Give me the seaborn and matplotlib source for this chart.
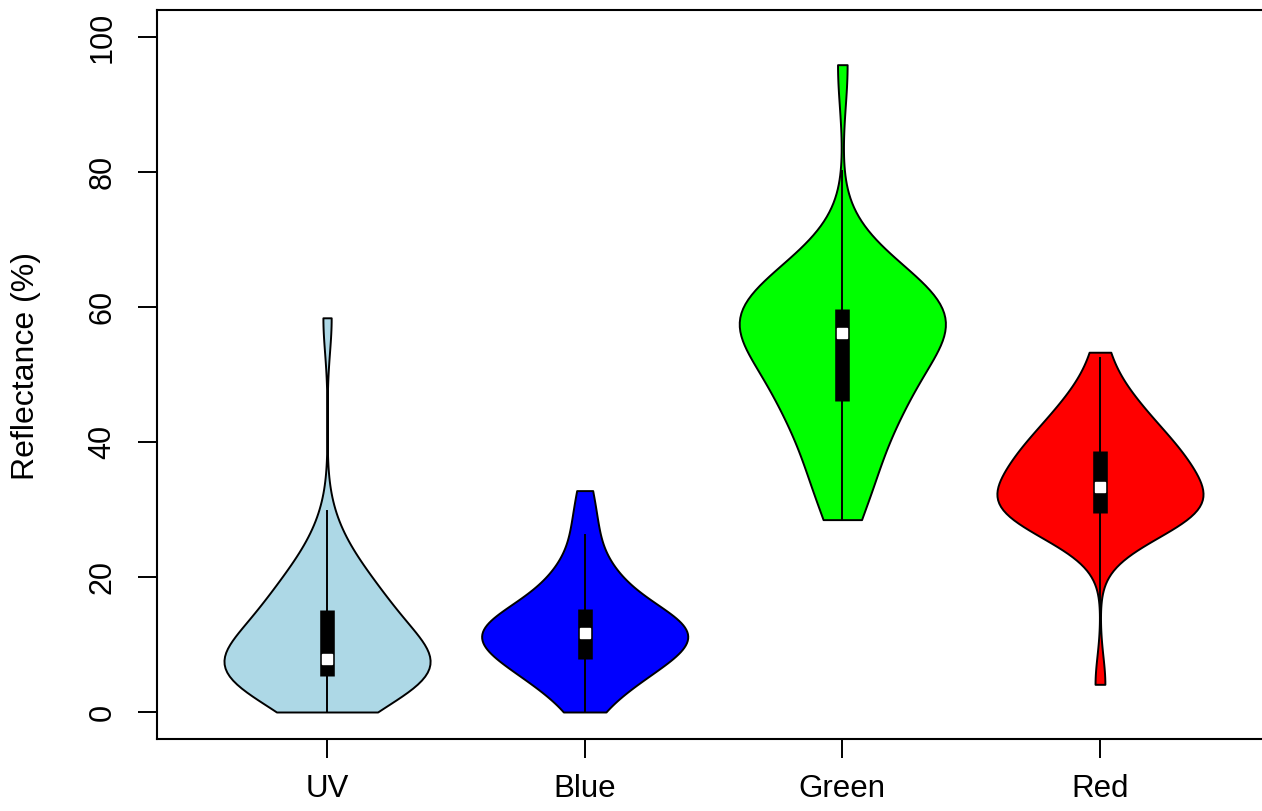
import numpy as np
import pandas as pd
import matplotlib
matplotlib.use("Agg")
import matplotlib.pyplot as plt
import seaborn as sns

plt.rcParams['font.family'] = ['Liberation Sans', 'DejaVu Sans']

bands = ["UV", "Blue", "Green", "Red"]
colors = ["#add8e6", "#0000ff", "#00ff00", "#ff0000"]

# reflectance values (%) per band
uv = [0.0, 2.4, 3.3, 3.9, 4.3, 4.6, 4.8, 4.9, 5.0, 5.1,
      5.4, 5.8, 6.2, 6.6, 7.0, 7.2, 7.4, 7.5, 7.6, 7.7,
      7.9, 8.8, 9.8, 10.8, 11.8, 12.6, 13.3, 13.9, 14.4, 14.9,
      15.7, 16.5, 17.3, 18.2, 19.2, 20.3, 21.6, 23.5, 27.0, 58.4]
blue = [0.0, 2.0, 3.3, 4.3, 5.1, 5.8, 6.4, 6.9, 7.3, 7.6,
        8.0, 8.6, 9.2, 9.7, 10.2, 10.6, 10.9, 11.2, 11.4, 11.6,
        11.8, 12.0, 12.3, 12.6, 12.9, 13.3, 13.7, 14.1, 14.5, 15.0,
        15.8, 16.8, 17.8, 18.8, 19.8, 20.8, 22.5, 26.0, 28.5, 32.8]
green = [28.5, 31.6, 33.4, 35.2, 37.2, 39.5, 41.7, 43.5, 44.8, 45.7,
         46.2, 47.0, 47.9, 48.9, 50.0, 51.2, 52.5, 53.8, 55.0, 56.0,
         56.4, 56.8, 57.2, 57.6, 58.0, 58.3, 58.6, 58.9, 59.2, 59.5,
         60.2, 60.8, 61.5, 62.3, 63.2, 64.2, 65.3, 66.5, 68.0, 95.9]
red = [4.1, 25.5, 26.8, 27.6, 28.2, 28.6, 28.9, 29.1, 29.3, 29.4,
       29.6, 30.1, 30.6, 31.1, 31.6, 32.0, 32.4, 32.8, 33.1, 33.3,
       33.5, 35.0, 36.0, 36.8, 37.3, 37.7, 38.0, 38.2, 38.4, 38.5,
       39.4, 40.5, 41.6, 42.6, 43.6, 44.5, 45.4, 46.5, 48.5, 53.3]

groups = [uv, blue, green, red]
df = pd.DataFrame({
    "band": np.repeat(bands, [len(g) for g in groups]),
    "value": np.concatenate(groups),
})

fig = plt.figure(figsize=(12.62, 8.11), dpi=100)
# axes box runs past the right edge, as in the cropped original
ax = fig.add_axes([157 / 1262, 72 / 811, 1113 / 1262, 729 / 811])

sns.violinplot(data=df, x="band", y="value", hue="band", order=bands,
               hue_order=bands, palette=colors, saturation=1, cut=0,
               density_norm="width", width=0.8, bw_adjust=1.06, inner=None,
               linewidth=1.4, linecolor="black", legend=False, ax=ax)

# vioplot style box: whisker line, thick iqr bar, white median
for i, vals in enumerate(groups):
    vals = np.asarray(vals)
    q1, med, q3 = np.percentile(vals, [25, 50, 75])
    iqr = q3 - q1
    lo = max(q1 - 1.5 * iqr, vals.min())
    hi = min(q3 + 1.5 * iqr, vals.max())
    ax.plot([i, i], [lo, hi], color="black", lw=1.4, zorder=3)
    ax.plot([i, i], [q1, q3], color="black", lw=10.5, solid_capstyle="butt", zorder=4)
    ax.plot(i, med, marker="s", ms=7.5, color="white", mec="white", zorder=5)

ax.set_xlim(-0.66, 3.66)
ax.set_ylim(-4, 104)
ax.set_yticks([0, 20, 40, 60, 80, 100])
ax.set_xlabel("")
ax.set_ylabel("Reflectance (%)", fontsize=23)
ax.yaxis.set_label_coords(-0.104, 0.512)

for s in ax.spines.values():
    s.set_linewidth(1.5)
    s.set_color("black")
ax.spines["right"].set_visible(False)
ax.tick_params(axis="both", direction="out", length=13.5, width=1.4, color="black")
ax.tick_params(axis="x", labelsize=22.5, pad=12)
ax.tick_params(axis="y", labelsize=22, labelrotation=90, pad=15)
for lab in ax.get_yticklabels():
    lab.set_va("center")

fig.savefig("out.png", dpi=100)
